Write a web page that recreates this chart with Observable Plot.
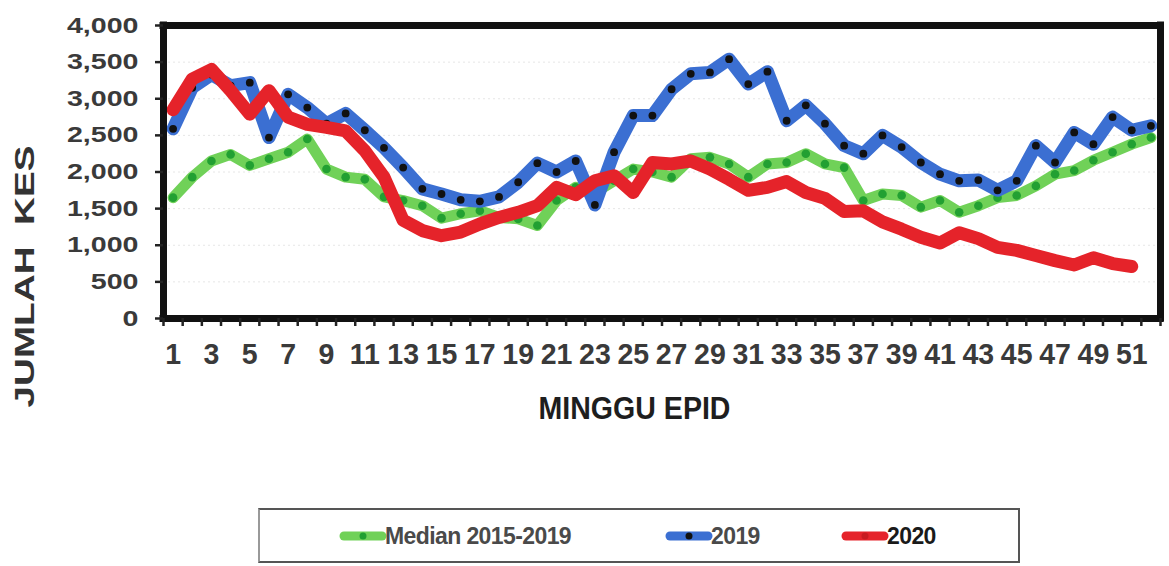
<!DOCTYPE html>
<html>
<head>
<meta charset="utf-8">
<script src="https://cdn.jsdelivr.net/npm/d3@7"></script>
<script src="https://cdn.jsdelivr.net/npm/@observablehq/plot@0.6"></script>
<style>
  body { margin: 0; background: #fff; font-family: "Liberation Sans", Arial, sans-serif; }
  #wrap { position: relative; width: 1169px; height: 566px; overflow: hidden; }
  #legend { position: absolute; left: 258px; top: 508px; width: 762px; height: 55px;
            border: 2px solid #555; border-left-color: #999; box-sizing: border-box; background: #fff; }
  .item { position: absolute; top: 12px; height: 28px; display: flex; align-items: center; }
  .item span { font-weight: bold; font-size: 23px; color: #444; letter-spacing: -0.6px; margin-left: -2px; }
</style>
</head>
<body>
<div id="wrap">
  <div id="chart"></div>
  <div id="legend"></div>
</div>
<script>
// ---- data ----
const weeks = [1,2,3,4,5,6,7,8,9,10,11,12,13,14,15,16,17,18,19,20,21,22,23,24,25,26,
               27,28,29,30,31,32,33,34,35,36,37,38,39,40,41,42,43,44,45,46,47,48,49,50,51,52];
const median20152019 = [1650,1930,2150,2240,2090,2180,2270,2450,2040,1930,1900,1660,1610,1540,1370,1430,
                        1470,1380,1360,1270,1610,1790,1720,1880,2040,2000,1930,2180,2200,2110,1930,2110,
                        2130,2250,2110,2060,1610,1700,1680,1520,1610,1450,1540,1650,1680,1810,1970,2020,
                        2160,2270,2380,2470];
const cases2019 = [2590,3150,3330,3180,3220,2470,3060,2880,2660,2800,2570,2330,2060,1770,1700,1620,
                   1600,1660,1860,2120,2000,2150,1550,2270,2770,2770,3130,3340,3360,3540,3200,3370,
                   2700,2910,2660,2360,2250,2500,2340,2130,1970,1880,1890,1750,1880,2360,2130,2540,
                   2380,2750,2570,2630];
const cases2020 = [2850,3270,3400,3110,2790,3110,2750,2650,2610,2560,2290,1930,1340,1200,1130,1180,
                   1290,1380,1450,1540,1790,1690,1880,1950,1720,2130,2110,2150,2040,1900,1750,1790,
                   1870,1720,1640,1460,1470,1320,1220,1110,1030,1170,1090,970,930,860,790,730,
                   830,750,710];
const xTickLabels = [1,3,5,7,9,11,13,15,17,19,21,23,25,27,29,31,33,35,37,39,41,43,45,47,49,51];
const yTicks = [0,500,1000,1500,2000,2500,3000,3500,4000];
const seriesNames = ["Median 2015-2019", "2019", "2020"];
const colors = {median: "#70d158", medianDot: "#22a032", blue: "#3b6fd2", red: "#e5232a"};

const rowsMedian = weeks.map((w, i) => ({week: w, value: median20152019[i]}));
const rows2019 = weeks.map((w, i) => ({week: w, value: cases2019[i]}));
const rows2020 = cases2020.map((v, i) => ({week: weeks[i], value: v}));
const tickEdges = weeks.map(w => w - 0.5).concat([weeks[weeks.length - 1] + 0.5]);
const xEdges = [tickEdges[0], tickEdges[tickEdges.length - 1]];
const yEdges = [yTicks[0], yTicks[yTicks.length - 1]];

const H = 450;
const plot = Plot.plot({
  width: 1169, height: H,
  marginLeft: 163, marginRight: 9, marginTop: 25, marginBottom: H - 318,
  x: {domain: xEdges},
  y: {domain: yEdges},
  style: {fontFamily: "'Liberation Sans', Arial, sans-serif", background: "#fff", overflow: "visible"},
  marks: [
    Plot.ruleY(yTicks.slice(1, -1), {stroke: "#e6e6e6", strokeDasharray: "2 3"}),
    Plot.line(rowsMedian, {x: "week", y: "value", stroke: colors.median, strokeWidth: 11,
      strokeLinejoin: "round", strokeLinecap: "round"}),
    Plot.dot(rowsMedian, {x: "week", y: "value", r: 4.3, fill: colors.medianDot}),
    Plot.line(rows2019, {x: "week", y: "value", stroke: colors.blue, strokeWidth: 13,
      strokeLinejoin: "round", strokeLinecap: "round"}),
    Plot.dot(rows2019, {x: "week", y: "value", r: 3.9, fill: "#111"}),
    Plot.line(rows2020, {x: "week", y: "value", stroke: colors.red, strokeWidth: 13,
      strokeLinejoin: "round", strokeLinecap: "round"}),
    // heavy plot border
    Plot.ruleY(yEdges, {stroke: "#111", strokeWidth: 7, strokeLinecap: "square"}),
    Plot.ruleX(xEdges, {stroke: "#111", strokeWidth: 7, strokeLinecap: "square"}),
    Plot.axisY(yTicks, {tickFormat: d3.format(","), tickSize: 8, tickPadding: 17, stroke: "#222",
      strokeWidth: 2.5, fontSize: 22, fontWeight: "bold", fill: "#3a3a3a", label: null}),
    Plot.axisX(tickEdges, {tickFormat: () => "", tickSize: 8, stroke: "#222", strokeWidth: 2.5, label: null}),
    Plot.axisX(xTickLabels, {tickSize: 0, tickPadding: 24, fontSize: 30, fontWeight: "bold",
      fill: "#3a3a3a", label: null}),
    Plot.text(["JUMLAH\u00a0\u00a0KES"], {frameAnchor: "left", rotate: -90, dx: -138, dy: 104.5,
      fontSize: 28, fontWeight: "bold", fill: "#333", textAnchor: "middle", lineAnchor: "middle"}),
    Plot.text(["MINGGU EPID"], {frameAnchor: "bottom", dx: -27.5, dy: 90.5, fontSize: 31,
      fontWeight: "bold", fill: "#1e1e1e", textAnchor: "middle", lineAnchor: "middle"})
  ]
});
document.getElementById("chart").appendChild(plot);

const svg = d3.select(plot);
// font tweaks to mimic the stretched lettering of the original
svg.selectAll('g[aria-label="y-axis tick label"] text').each(function() {
  const w = this.getComputedTextLength();
  d3.select(this).attr("textLength", w * 1.3).attr("lengthAdjust", "spacingAndGlyphs");
});
svg.selectAll('g[aria-label="text"] text').each(function() {
  const t = this.textContent;
  if (t.startsWith("JUMLAH")) d3.select(this).attr("textLength", 262).attr("lengthAdjust", "spacingAndGlyphs");
  if (t.startsWith("MINGGU")) d3.select(this).attr("textLength", 192).attr("lengthAdjust", "spacingAndGlyphs");
});
svg.selectAll('g[aria-label="x-axis tick label"] text').each(function() {
  const w = this.getComputedTextLength();
  d3.select(this).attr("textLength", w * 0.95).attr("lengthAdjust", "spacingAndGlyphs");
});

// ---- legend ----
const legendItems = [
  {name: seriesNames[0], left: 79, line: colors.median, dot: colors.medianDot, text: "#4a4a4a"},
  {name: seriesNames[1], left: 405, line: colors.blue, dot: "#111", text: "#4a4a4a"},
  {name: seriesNames[2], left: 581, line: colors.red, dot: "#c81a20", text: "#1a1a1a"}
];
const legend = document.getElementById("legend");
for (const it of legendItems) {
  const div = document.createElement("div");
  div.className = "item";
  div.style.left = it.left + "px";
  div.innerHTML =
    `<svg width="48" height="16"><line x1="5" y1="8" x2="43" y2="8" stroke="${it.line}" stroke-width="9" stroke-linecap="round"/>` +
    `<circle cx="24" cy="8" r="3.5" fill="${it.dot}"/></svg><span style="color:${it.text}">${it.name}</span>`;
  legend.appendChild(div);
}
</script>
</body>
</html>
